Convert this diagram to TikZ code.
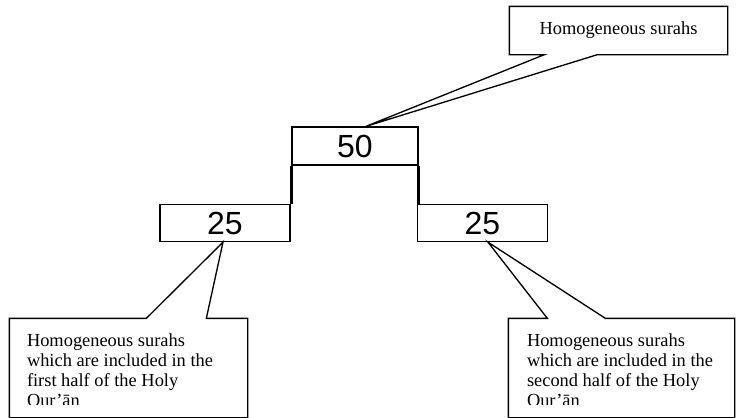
\documentclass[tikz,border=0pt]{standalone}
\usepackage{fontspec}
\setmainfont{Liberation Serif}
\newfontfamily\numfont{Liberation Sans}
\usetikzlibrary{positioning}

\begin{document}
\begin{tikzpicture}[x=0.75pt,y=-0.75pt,line width=1pt,
  numbox/.style={draw,inner sep=0pt,font=\numfont\fontsize{24}{28}\selectfont},
  note/.style={inner sep=0pt,font=\fontsize{13.8}{15}\selectfont},
  lbl/.style={font=\fontsize{13.8}{15}\selectfont,align=left,inner sep=0pt,anchor=north west}]
\useasboundingbox (0,0) rectangle (736,418);
% number boxes
\node[numbox,minimum width=94.5pt,minimum height=28.5pt] (whole) at (355,146) {50};
\node[numbox,minimum width=97.5pt,minimum height=27.75pt] (first) at (225,223) {25};
\node[numbox,minimum width=97.5pt,minimum height=27.75pt] (second) at (482.5,223) {25};
\draw[line width=2.2pt] (whole.south west) -- (whole.south west |- first.north);
\draw[line width=2.2pt] (whole.south east) -- (whole.south east |- second.north);
% top callout
\node[note,minimum width=162.75pt,minimum height=35.25pt] (topnote) at (618.5,30.5) {Homogeneous surahs};
\draw (topnote.north west) -- (topnote.north east) -- (topnote.south east)
  -- ([xshift=66pt]topnote.south west) -- ([xshift=8.25pt]whole.north)
  -- ([xshift=26.25pt]topnote.south west) -- (topnote.south west) -- cycle;
% bottom callouts
\node[note,minimum width=177.75pt,minimum height=73.5pt] (lnote) at (128.5,368) {};
\draw (lnote.south west) -- (lnote.north west) -- ([xshift=102.75pt]lnote.north west)
  -- ([xshift=-1.5pt]first.south) -- ([xshift=147.75pt]lnote.north west)
  -- (lnote.north east) -- (lnote.south east) -- cycle;
\node[note,minimum width=168.75pt,minimum height=73.5pt] (rnote) at (621.5,368) {};
\draw (rnote.south west) -- (rnote.north west) -- ([xshift=29.25pt]rnote.north west)
  -- ([xshift=4.1pt]second.south) -- ([xshift=72.75pt]rnote.north west)
  -- (rnote.north east) -- (rnote.south east) -- cycle;
\begin{scope}
\clip (lnote.north west) rectangle ([yshift=9.75pt]rnote.south east);
\node[lbl] (ltext) at ([xshift=12.75pt,yshift=-10.8pt]lnote.north west)
  {Homogeneous surahs\\which are included in the\\first half of the Holy\\Qur’ān};
\node[lbl] (rtext) at ([xshift=13.5pt,yshift=-10.8pt]rnote.north west)
  {Homogeneous surahs\\which are included in the\\second half of the Holy\\Qur’ān};
\end{scope}
\end{tikzpicture}
\end{document}
